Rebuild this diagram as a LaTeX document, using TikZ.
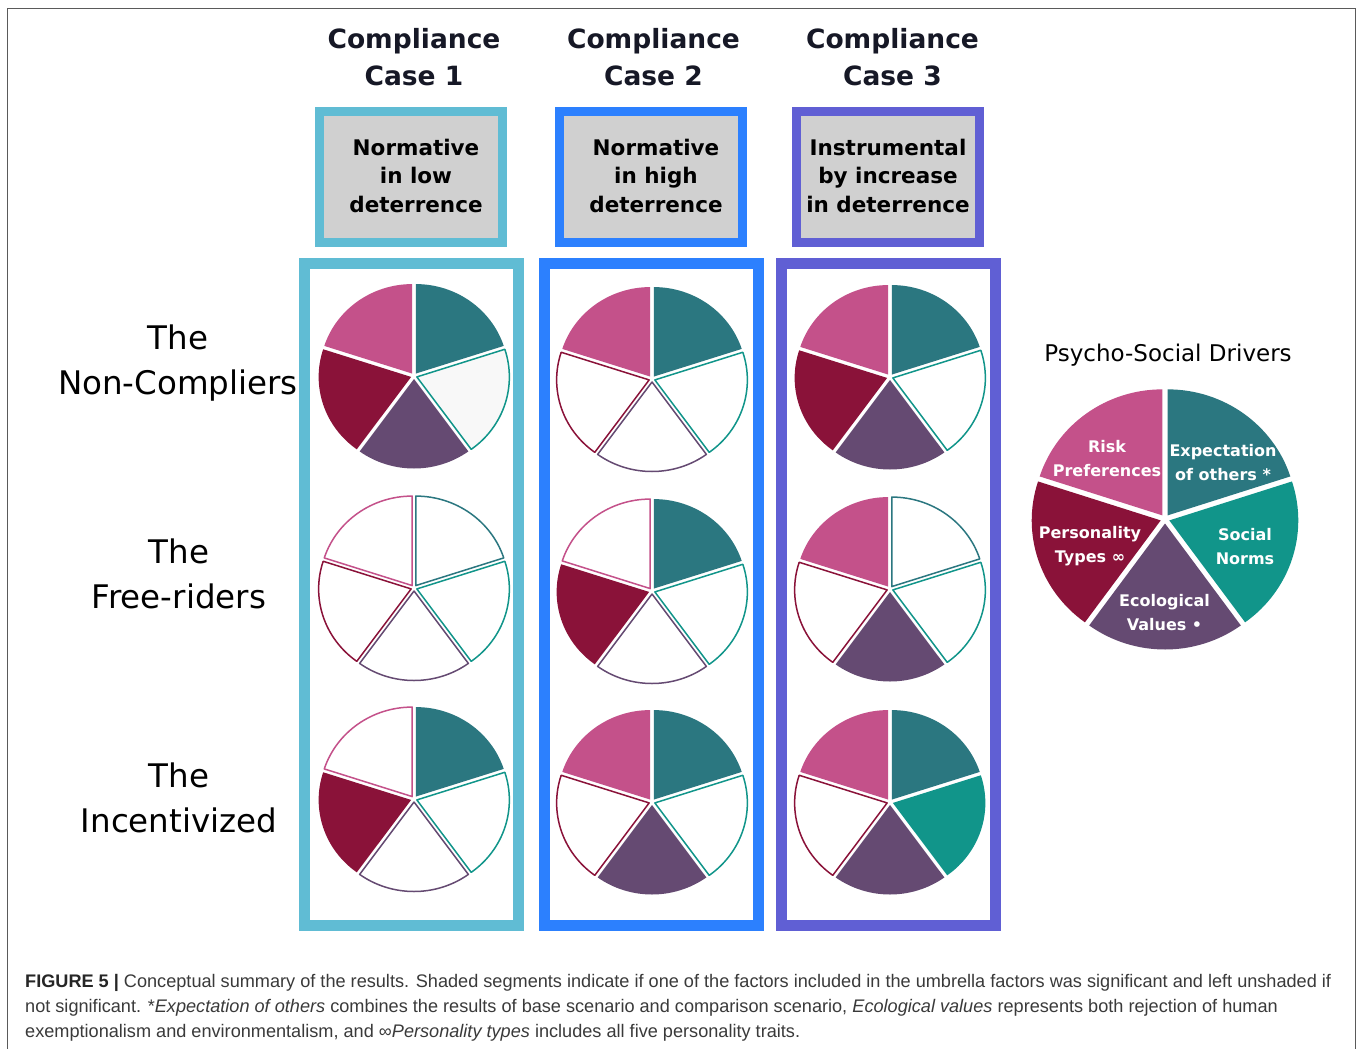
\documentclass[tikz,border=0pt]{standalone}
\usepackage{fontspec}
\setmainfont{DejaVu Sans}
\newfontfamily\capfont{Liberation Sans}
\usepackage{graphicx}
\definecolor{cR}{HTML}{C4518A}
\definecolor{cE}{HTML}{2B7780}
\definecolor{cS}{HTML}{11958A}
\definecolor{cV}{HTML}{654A72}
\definecolor{cP}{HTML}{8A1239}
\definecolor{caseA}{HTML}{60BCD4}
\definecolor{caseB}{HTML}{2C80FE}
\definecolor{caseC}{HTML}{605FD4}
\definecolor{boxgray}{HTML}{D0D0D0}
\definecolor{hdr}{HTML}{161826}
\definecolor{captxt}{HTML}{3A3A3A}
\definecolor{framegray}{HTML}{5A5A5A}
\definecolor{palegray}{HTML}{F8F8F8}
\newdimen\capw
\newsavebox\capbox
\newcommand\capfirst{\textcolor{black!85}{\textbf{FIGURE 5 |}} Conceptual summary of the results. Shaded segments indicate if one of the factors included in the umbrella factors was significant and left unshaded if}
\def\capsx{0.9}
\AtBeginDocument{%
  \sbox\capbox{\capfont\fontsize{18.2}{25}\selectfont\capfirst}%
  \global\capw=\wd\capbox
  \ifdim\capw>10pt
    \pgfmathsetmacro\tmpsx{1306/\capw}%
    \xdef\capsx{\tmpsx}%
  \fi
}
\tikzset{
  header/.style={font=\bfseries\fontsize{26.5}{36}\selectfont, text=hdr, align=center, anchor=base, inner sep=0pt},
  boxtext/.style={font=\bfseries\fontsize{21.5}{28.3}\selectfont, text=black, align=center, anchor=base, inner sep=0pt},
  casebox/.style={draw=#1, line width=9pt, fill=boxgray, minimum width=183pt, minimum height=131pt, inner sep=0pt},
  colbox/.style={draw=#1, line width=11pt, fill=white, minimum width=214pt, minimum height=662pt, inner sep=0pt},
  rowlabel/.style={font=\fontsize{32.5}{45}\selectfont, text=black, align=center, anchor=base, inner sep=0pt},
  legtitle/.style={font=\fontsize{23}{28}\selectfont, text=black, anchor=base, inner sep=0pt},
  legtext/.style={font=\bfseries\fontsize{16}{24}\selectfont, text=white, align=center, anchor=base, inner sep=0pt},
  capline/.style={anchor=base west, inner sep=0pt, font=\capfont\fontsize{18.2}{25}\selectfont, text=captxt},
  segfull/.style={fill=#1, draw=none},
  segempty/.style={fill=white, draw=#1, line width=1.5pt, line join=round},
  segpale/.style={fill=palegray, draw=#1, line width=1.5pt, line join=round},
}
% #1 name, #2 cx, #3 cy (pixels down), #4 Risk, #5 Expectation, #6 Social, #7 Ecological, #8 Personality
\newcommand\piechart[8]{%
  \coordinate (#1) at (#2,-#3);
  \foreach \a/\c/\f in {18/cE/#5,90/cR/#4,162/cP/#8,234/cV/#7,306/cS/#6}{%
    \pgfmathsetmacro\m{\a+36}%
    \ifcase\f\relax
      \path[segempty=\c] ([shift={(\m:\pgap)}]#1) -- ++(\a:\prx pt and \pry pt) arc[start angle=\a, delta angle=72, x radius=\prx pt, y radius=\pry pt] -- cycle;
    \or
      \path[segfull=\c] ([shift={(\m:\pgap)}]#1) -- ++(\a:\prx pt and \pry pt) arc[start angle=\a, delta angle=72, x radius=\prx pt, y radius=\pry pt] -- cycle;
    \or
      \path[segpale=\c] ([shift={(\m:\pgap)}]#1) -- ++(\a:\prx pt and \pry pt) arc[start angle=\a, delta angle=72, x radius=\prx pt, y radius=\pry pt] -- cycle;
    \fi
  }%
}
\begin{document}
\begin{tikzpicture}[x=1pt,y=1pt]
\useasboundingbox (0,0) rectangle (1358,-1049);
\fill[white] (0,0) rectangle (1358,-1049);
% outer frame
\draw[framegray, line width=1.5pt] (7.5,-1070) -- (7.5,-8.5) -- (1355.5,-8.5) -- (1355.5,-1070);

% headers (anchor base = last line)
\node[header] (h1) at (414,-85) {Compliance\\Case 1};
\node[header] (h2) at (653.5,-85) {Compliance\\Case 2};
\node[header] (h3) at (892.5,-85) {Compliance\\Case 3};

% case boxes
\node[casebox=caseA] (b1) at (411,-177) {};
\node[casebox=caseB] (b2) at (651,-177) {};
\node[casebox=caseC] (b3) at (888,-177) {};
\node[boxtext] (b1t) at (416,-212) {Normative\\in low\\deterrence};
\node[boxtext] (b2t) at (656,-212) {Normative\\in high\\deterrence};
\node[boxtext] (b3t) at (888,-212) {Instrumental\\by increase\\in deterrence};

% column boxes
\node[colbox=caseA] (c1) at (411,-594.5) {};
\node[colbox=caseB] (c2) at (651,-594.5) {};
\node[colbox=caseC] (c3) at (888.5,-594.5) {};

% row labels
\node[rowlabel] (r1) at (178,-394) {The\\Non-Compliers};
\node[rowlabel] (r2) at (179,-608) {The\\Free-riders};
\node[rowlabel] (r3) at (179,-832) {The\\Incentivized};

% pies
\def\prx{92.5}\def\pry{89.5}\def\pgap{3}
\piechart{p11}{414}{376}{1}{1}{2}{1}{1}
\piechart{p12}{652}{379}{1}{1}{0}{0}{0}
\piechart{p13}{890}{377}{1}{1}{0}{1}{1}
\piechart{p21}{414}{588}{0}{0}{0}{0}{0}
\piechart{p22}{652}{591}{0}{1}{0}{0}{1}
\piechart{p23}{890}{589}{1}{0}{0}{1}{0}
\piechart{p31}{414}{799}{0}{1}{0}{0}{1}
\piechart{p32}{652}{802}{1}{1}{0}{1}{0}
\piechart{p33}{890}{802}{1}{1}{1}{1}{0}

% legend
\node[legtitle] (lt) at (1168,-361) {Psycho-Social Drivers};
\def\prx{129}\def\pry{126}\def\pgap{4.5}
\piechart{leg}{1165}{519}{1}{1}{1}{1}{1}
\node[legtext] (lR) at (1107,-476.5) {Risk\\Preferences};
\node[legtext] (lE) at (1223,-480.5) {Expectation\\of others *};
\node[legtext] (lS) at (1245,-564) {Social\\Norms};
\node[legtext] (lV) at (1164.5,-630) {Ecological\\Values •};
\node[legtext] (lP) at (1090,-562) {Personality\\Types ∞};

% caption
\node[capline] (cap1) at (25,-987.5) {\scalebox{\capsx}[1]{\capfirst}};
\node[capline] (cap2) at (25,-1012.5) {\scalebox{\capsx}[1]{not significant. *\textit{Expectation of others} combines the results of base scenario and comparison scenario, \textit{Ecological values} represents both rejection of human}};
\node[capline] (cap3) at (25,-1037.5) {\scalebox{\capsx}[1]{exemptionalism and environmentalism, and ∞\textit{Personality types} includes all five personality traits.}};
\end{tikzpicture}
\end{document}
